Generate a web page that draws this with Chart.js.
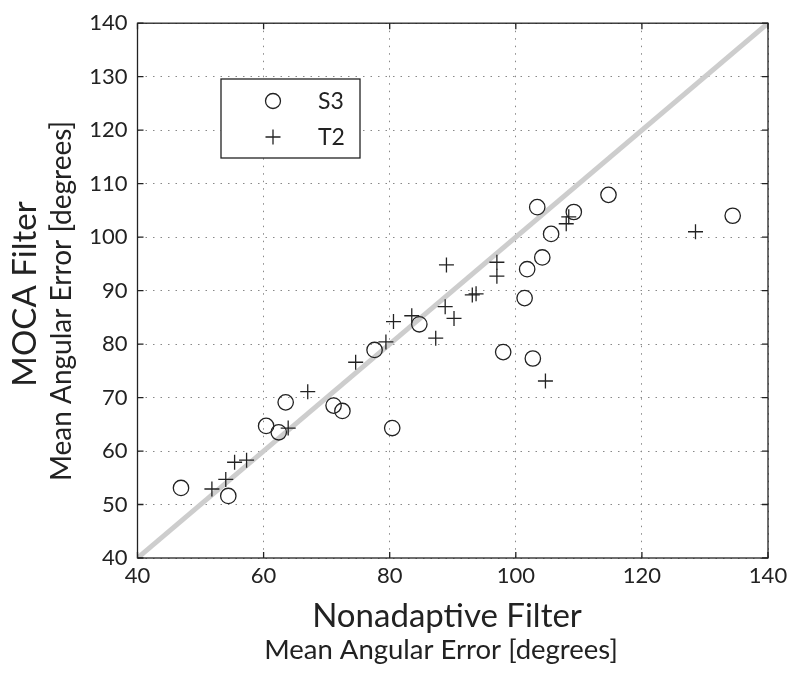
<!DOCTYPE html>
<html>
<head>
<meta charset="utf-8">
<script src="https://cdn.jsdelivr.net/npm/chart.js@4"></script>
<style>
  html, body { margin: 0; padding: 0; background: #fff; }
  #wrap { width: 795px; height: 679px; }
</style>
</head>
<body>
<div id="wrap"><canvas id="chart" width="795" height="679"></canvas></div>
<script>
// S3 circles: nonadaptive vs MOCA
const s3X = [46.9, 54.4, 60.4, 62.4, 63.5, 71.1, 72.5, 77.6, 80.4, 84.7, 98.0, 101.4, 101.8, 102.7, 103.4, 104.2, 105.6, 109.2, 114.7, 134.4];
const s3Y = [53.1, 51.6, 64.7, 63.5, 69.1, 68.5, 67.5, 78.9, 64.3, 83.7, 78.5, 88.6, 94.0, 77.3, 105.6, 96.2, 100.6, 104.7, 107.9, 104.0];
// T2 crosses
const t2X = [51.8, 54.0, 55.4, 57.3, 63.9, 67.0, 74.6, 79.4, 80.6, 83.5, 87.3, 88.8, 89.0, 90.2, 93.1, 93.7, 97.0, 97.0, 104.7, 108.0, 108.4, 128.5];
const t2Y = [52.9, 54.7, 57.9, 58.3, 64.3, 71.1, 76.6, 80.4, 84.2, 85.3, 81.1, 87.0, 94.8, 84.8, 89.2, 89.4, 95.3, 92.7, 73.1, 102.5, 103.8, 101.0];
const diagonal = [40, 140];
const xTicks = [40, 60, 80, 100, 120, 140];
const yTicks = [40, 50, 60, 70, 80, 90, 100, 110, 120, 130, 140];

const FONT = "Lato, 'Open Sans', sans-serif";
const INK = "#222";

const toPoints = (xs, ys) => xs.map((x, i) => ({ x, y: ys[i] }));

// frame, inward ticks, axis titles and legend
const decor = {
  id: "decor",
  afterDatasetsDraw(chart) {
    const { ctx, chartArea: a, scales } = chart;
    ctx.save();
    ctx.strokeStyle = INK;
    ctx.lineWidth = 1.3;
    ctx.strokeRect(a.left, a.top, a.right - a.left, a.bottom - a.top);

    ctx.beginPath();
    xTicks.forEach(v => {
      const px = scales.x.getPixelForValue(v);
      ctx.moveTo(px, a.bottom); ctx.lineTo(px, a.bottom - 6);
      ctx.moveTo(px, a.top); ctx.lineTo(px, a.top + 6);
    });
    yTicks.forEach(v => {
      const py = scales.y.getPixelForValue(v);
      ctx.moveTo(a.left, py); ctx.lineTo(a.left + 6, py);
      ctx.moveTo(a.right, py); ctx.lineTo(a.right - 6, py);
    });
    ctx.stroke();

    // titles
    ctx.fillStyle = INK;
    ctx.textAlign = "center";
    ctx.textBaseline = "middle";
    ctx.font = "33px " + FONT;
    ctx.fillText("Nonadaptive Filter", 447, 616);
    ctx.font = "27.5px " + FONT;
    ctx.fillText("Mean Angular Error [degrees]", 441, 650);

    ctx.save();
    ctx.translate(25.5, 294);
    ctx.rotate(-Math.PI / 2);
    ctx.font = "33px " + FONT;
    ctx.fillText("MOCA Filter", 0, 0);
    ctx.restore();
    ctx.save();
    ctx.translate(62, 301);
    ctx.rotate(-Math.PI / 2);
    ctx.font = "28px " + FONT;
    ctx.fillText("Mean Angular Error [degrees]", 0, 0);
    ctx.restore();

    // legend box
    const lx = 221, ly = 79, lw = 139, lh = 79;
    ctx.fillStyle = "#fff";
    ctx.fillRect(lx, ly, lw, lh);
    ctx.strokeStyle = INK;
    ctx.lineWidth = 1.3;
    ctx.strokeRect(lx, ly, lw, lh);
    ctx.beginPath();
    ctx.arc(273, 101, 7.5, 0, Math.PI * 2);
    ctx.moveTo(265.5, 137); ctx.lineTo(280.5, 137);
    ctx.moveTo(273, 129.5); ctx.lineTo(273, 144.5);
    ctx.stroke();
    ctx.fillStyle = INK;
    ctx.textAlign = "left";
    ctx.font = "23px " + FONT;
    ctx.fillText(chart.data.datasets[1].label, 318, 102);
    ctx.fillText(chart.data.datasets[2].label, 318, 138);
    ctx.restore();
  }
};

new Chart(document.getElementById("chart"), {
  type: "scatter",
  data: {
    datasets: [
      {
        label: "y = x",
        type: "line",
        data: toPoints(diagonal, diagonal),
        borderColor: "#cdcdcd",
        borderWidth: 5,
        pointRadius: 0,
        order: 3
      },
      {
        label: "S3",
        data: toPoints(s3X, s3Y),
        pointStyle: "circle",
        pointRadius: 7.7,
        borderColor: INK,
        borderWidth: 1.3,
        backgroundColor: "rgba(0,0,0,0)",
        order: 1
      },
      {
        label: "T2",
        data: toPoints(t2X, t2Y),
        pointStyle: "cross",
        pointRadius: 7.5,
        borderColor: INK,
        borderWidth: 1.3,
        order: 2
      }
    ]
  },
  options: {
    responsive: false,
    animation: false,
    layout: { padding: { left: 0, right: 27, top: 17, bottom: 0 } },
    plugins: { legend: { display: false }, tooltip: { enabled: false } },
    scales: {
      x: {
        type: "linear",
        min: 40, max: 140,
        afterBuildTicks: s => { s.ticks = xTicks.map(v => ({ value: v })); },
        afterFit: s => { s.height = 121; },
        ticks: { color: INK, font: { family: FONT, size: 22 }, padding: 5 },
        grid: { color: "#888", drawTicks: false, lineWidth: 1 },
        border: { display: false, dash: [1.5, 6] }
      },
      y: {
        type: "linear",
        min: 40, max: 140,
        afterBuildTicks: s => { s.ticks = yTicks.map(v => ({ value: v })); },
        afterFit: s => { s.width = 137.5; },
        ticks: { color: INK, font: { family: FONT, size: 22 }, padding: 10 },
        grid: { color: "#888", drawTicks: false, lineWidth: 1 },
        border: { display: false, dash: [1.5, 6] }
      }
    }
  },
  plugins: [decor]
});
</script>
</body>
</html>
